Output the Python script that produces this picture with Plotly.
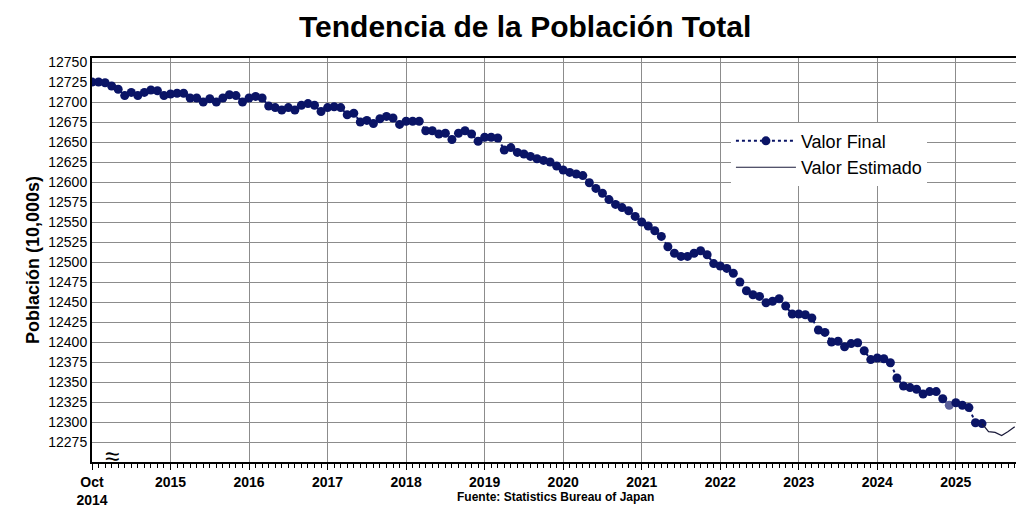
import plotly.graph_objects as go

# month index 0 = Oct 2014
final_values = [
    12725, 12725, 12724, 12720, 12716, 12708, 12712, 12708, 12712, 12715, 12714, 12708,
    12710, 12711, 12711, 12705, 12705, 12700, 12704, 12700, 12705, 12709, 12708, 12700,
    12705, 12707, 12705, 12695, 12693, 12690, 12693, 12690, 12696, 12698, 12696, 12688,
    12693, 12694, 12693, 12684, 12686, 12675, 12677, 12673, 12679, 12682, 12680, 12672,
    12676, 12676, 12676, 12664, 12664, 12660, 12661, 12653, 12661, 12664, 12660, 12651,
    12656, 12656, 12655, 12640, 12643, 12637, 12635, 12632, 12629, 12627, 12625, 12620,
    12615, 12612, 12610, 12608, 12599, 12592, 12586, 12578, 12572, 12568, 12564, 12557,
    12550, 12545, 12539, 12532, 12519, 12511, 12507, 12507, 12511, 12514, 12509, 12498,
    12495, 12492, 12486, 12475, 12464, 12459, 12457, 12449, 12451, 12454, 12445, 12435,
    12435, 12434, 12430, 12415, 12412, 12400, 12401, 12394, 12398, 12399, 12389, 12378,
    12380, 12379, 12374, 12355, 12345, 12343, 12341, 12335, 12338, 12338, 12329, 12321,
    12324, 12321, 12318, 12299, 12298,
]
estimated_values = [12298, 12288, 12287, 12283, 12288, 12294]
tick_labels = ["Oct<br>2014", "2015", "2016", "2017", "2018", "2019", "2020",
               "2021", "2022", "2023", "2024", "2025"]
y_ticks = list(range(12275, 12751, 25))

final_x = list(range(len(final_values)))
est_start = len(final_values) - 1
est_x = list(range(est_start, est_start + len(estimated_values)))
navy = "#0a1466"
marker_colors = [navy] * len(final_values)
marker_colors[131] = "#5a5f9a"

fig = go.Figure()
fig.add_trace(go.Scatter(
    x=final_x, y=final_values, mode="lines+markers", name="Valor Final",
    line=dict(color=navy, width=2, dash="dot"),
    marker=dict(size=9, color=marker_colors),
))
fig.add_trace(go.Scatter(
    x=est_x, y=estimated_values, mode="lines", name="Valor Estimado",
    line=dict(color="#1a1a3a", width=1.2),
))

fig.update_layout(
    width=1024, height=512,
    title=dict(text="<b>Tendencia de la Población Total</b>", x=0.505, xanchor="center",
               y=0.985, yanchor="top", font=dict(size=30, color="black")),
    font=dict(family="Liberation Sans, Arial", size=14, color="black"),
    plot_bgcolor="white", paper_bgcolor="white",
    margin=dict(l=84, r=14, t=50, b=34),
    xaxis=dict(
        range=[0, 141.5], tickmode="array", tickvals=[12 * i for i in range(len(tick_labels))],
        ticktext=["<b>%s</b>" % t for t in tick_labels], showgrid=True, gridcolor="#8c8c8c",
        gridwidth=1, showline=True, linecolor="black", linewidth=2, mirror=True,
        ticks="outside", ticklen=6, tickcolor="black", zeroline=False,
        tickfont=dict(size=14),
        minor=dict(dtick=1, tick0=0, ticks="outside", ticklen=4, tickcolor="black", showgrid=False),
    ),
    yaxis=dict(
        range=[12250, 12755], tickmode="array", tickvals=y_ticks,
        ticktext=[str(v) for v in y_ticks],
        showgrid=True, gridcolor="#8c8c8c", gridwidth=1, showline=True, linecolor="black",
        linewidth=2, mirror=True, zeroline=False, tickfont=dict(size=14),
        title=dict(text="<b>Población (10,000s)</b>", font=dict(size=18), standoff=4),
    ),
    legend=dict(x=0.69, y=0.84, xanchor="left", yanchor="top", bgcolor="white",
                font=dict(size=18), tracegroupgap=0, itemwidth=60),
    annotations=[
        dict(text="<b>Fuente: Statistics Bureau of Japan</b>", x=0.5, y=0, xref="paper",
             yref="paper", yshift=-44, showarrow=False, font=dict(size=12)),
        dict(text="≈", x=3, y=12258, xref="x", yref="y", showarrow=False,
             font=dict(size=26)),
    ],
)

fig.write_html("out.html")
